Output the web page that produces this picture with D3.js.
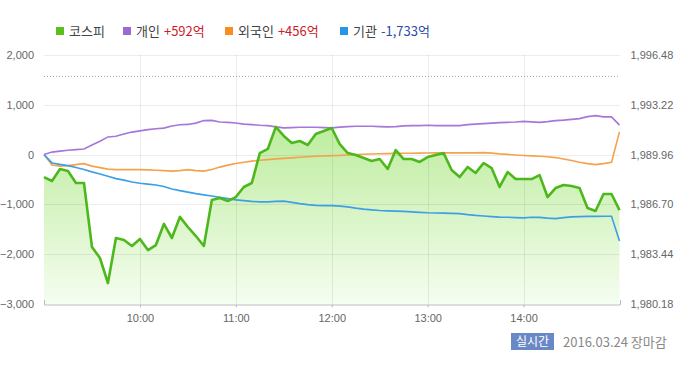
<!DOCTYPE html>
<html><head><meta charset="utf-8">
<script src="https://cdn.jsdelivr.net/npm/d3@7"></script>
<style>
html,body{margin:0;padding:0;background:#fff;}
svg{display:block;}
.tick text{font-family:"Liberation Sans",Arial,sans-serif;font-size:11px;fill:#666;}
</style></head>
<body>
<svg id="chart" width="700" height="365"></svg>
<script>
const times = ["09:00","09:05","09:10","09:15","09:20","09:25","09:30","09:35","09:40","09:45","09:50","09:55",
"10:00","10:05","10:10","10:15","10:20","10:25","10:30","10:35","10:40","10:45","10:50","10:55",
"11:00","11:05","11:10","11:15","11:20","11:25","11:30","11:35","11:40","11:45","11:50","11:55",
"12:00","12:05","12:10","12:15","12:20","12:25","12:30","12:35","12:40","12:45","12:50","12:55",
"13:00","13:05","13:10","13:15","13:20","13:25","13:30","13:35","13:40","13:45","13:50","13:55",
"14:00","14:05","14:10","14:15","14:20","14:25","14:30","14:35","14:40","14:45","14:50","14:55","15:00"];
const kospi = [1988.49,1988.23,1989.02,1988.89,1988.10,1988.10,1983.91,1983.19,1981.55,1984.50,
1984.37,1983.98,1984.44,1983.71,1984.04,1985.42,1984.50,1985.88,1985.22,1984.63,
1983.98,1986.99,1987.12,1986.92,1987.18,1987.84,1988.10,1990.06,1990.33,1991.77,
1991.18,1990.72,1990.85,1990.59,1991.31,1991.51,1991.70,1990.65,1990.06,1989.93,
1989.74,1989.54,1989.67,1989.02,1990.26,1989.67,1989.67,1989.48,1989.80,1989.93,
1990.06,1988.95,1988.49,1989.15,1988.76,1989.41,1989.08,1987.84,1988.82,1988.36,
1988.36,1988.36,1988.62,1987.18,1987.77,1987.97,1987.90,1987.77,1986.46,1986.27,
1987.38,1987.38,1986.33];
const individual = [0,50,70,86,100,114,191,267,355,367,
415,452,476,502,518,532,576,598,606,632,
683,687,656,648,636,612,602,590,582,556,
536,542,548,548,548,542,536,552,562,568,
568,568,562,556,562,576,582,582,588,582,
582,582,582,602,612,622,632,642,648,656,
668,658,648,662,683,693,707,723,763,783,
757,757,592];
const foreign = [0,-211,-231,-221,-201,-181,-231,-261,-291,-301,
-301,-301,-301,-307,-313,-321,-331,-321,-301,-321,
-331,-301,-251,-211,-177,-155,-131,-115,-100,-86,
-75,-65,-54,-44,-34,-28,-20,-16,-8,0,
6,12,16,20,24,26,28,30,32,34,
34,34,34,34,34,40,30,14,4,-8,
-18,-26,-34,-44,-60,-90,-120,-155,-181,-201,
-181,-155,456];
const institution = [0,-167,-197,-221,-261,-301,-347,-388,-436,-482,
-512,-550,-576,-592,-612,-639,-689,-723,-753,-783,
-809,-833,-859,-884,-910,-924,-940,-950,-950,-940,
-934,-960,-984,-1004,-1020,-1024,-1024,-1034,-1050,-1074,
-1094,-1110,-1124,-1130,-1136,-1140,-1150,-1160,-1168,-1172,
-1176,-1180,-1185,-1205,-1221,-1233,-1245,-1255,-1259,-1265,
-1271,-1257,-1261,-1275,-1285,-1265,-1251,-1245,-1241,-1241,
-1239,-1239,-1733];
const leftTicks = [-3000,-2000,-1000,0,1000,2000];
const rightTicks = [1980.18,1983.44,1986.70,1989.96,1993.22,1996.48];
const timeTicks = ["10:00","11:00","12:00","13:00","14:00"];
const prevClose = 1995.12;
const legendNames = ["코스피","개인","외국인","기관"];
const legendValues = ["","+592억","+456억","-1,733억"];
const dateLabel = "2016.03.24 장마감";
const badgeLabel = "실시간";

const parse = d3.timeParse("%H:%M");
const svg = d3.select("#chart");
const L = 44, R = 619.5, T = 55, B = 304;
const x = d3.scaleTime().domain([parse("09:00"), parse("15:00")]).range([L, R]);
const yL = d3.scaleLinear().domain([-3000, 2000]).range([B, T]);
const yR = d3.scaleLinear().domain([1980.18, 1996.48]).range([B, T]);
const tData = times.map(parse);

const defs = svg.append("defs");
const grad = defs.append("linearGradient").attr("id","g").attr("gradientUnits","userSpaceOnUse")
  .attr("x1",0).attr("x2",0).attr("y1",120).attr("y2",B);
grad.append("stop").attr("offset","0").attr("stop-color","#bcec9c");
grad.append("stop").attr("offset","1").attr("stop-color","#f5fdf0");

// area
svg.append("path").datum(kospi)
  .attr("d", d3.area().x((d,i)=>x(tData[i])).y0(B).y1(d=>yR(d)))
  .attr("fill","url(#g)");

// grid
const grid = svg.append("g");
grid.selectAll("line.h").data(leftTicks.filter(d=>d>-3000)).join("line")
  .attr("x1",L).attr("x2",R).attr("y1",d=>Math.round(yL(d))+0.5).attr("y2",d=>Math.round(yL(d))+0.5)
  .attr("stroke","rgba(0,0,0,0.07)");
grid.selectAll("line.v").data(timeTicks).join("line")
  .attr("x1",d=>Math.round(x(parse(d)))+0.5).attr("x2",d=>Math.round(x(parse(d)))+0.5)
  .attr("y1",T).attr("y2",B).attr("stroke","rgba(0,0,0,0.07)");

// prev close dotted
svg.append("line").attr("x1",L).attr("x2",R)
  .attr("y1",Math.round(yR(prevClose))+0.5).attr("y2",Math.round(yR(prevClose))+0.5)
  .attr("stroke","#aaa").attr("stroke-dasharray","1,2");

// axes
const axL = svg.append("g").attr("transform",`translate(${L},0)`)
  .call(d3.axisLeft(yL).tickValues(leftTicks).tickFormat(d3.format(",")).tickSize(0).tickPadding(10));
axL.select(".domain").remove();
const axR = svg.append("g").attr("transform",`translate(${R},0)`)
  .call(d3.axisRight(yR).tickValues(rightTicks).tickFormat(d3.format(",.2f")).tickSize(0).tickPadding(11));
axR.select(".domain").remove();
axR.selectAll(".tick text").attr("text-anchor","start");
const axB = svg.append("g").attr("transform",`translate(0,${B+0.5})`)
  .call(d3.axisBottom(x).tickValues(timeTicks.map(parse)).tickFormat(d3.timeFormat("%H:%M")).tickSize(3).tickSizeOuter(0).tickPadding(7));
axB.select(".domain").attr("stroke","#bbb");
axB.selectAll(".tick line").attr("stroke","#bbb");
[L, R].forEach(v=>{
  svg.append("line").attr("x1",Math.round(v)+0.5).attr("x2",Math.round(v)+0.5).attr("y1",B-4).attr("y2",B+1).attr("stroke","#bbb");
});

// lines
const line = (ys)=>d3.line().x((d,i)=>x(tData[i])).y(d=>ys(d));
svg.append("path").datum(foreign).attr("d",line(yL)).attr("fill","none").attr("stroke","#f5a24c").attr("stroke-width",1.6);
svg.append("path").datum(institution).attr("d",line(yL)).attr("fill","none").attr("stroke","#3d9fe6").attr("stroke-width",1.6);
svg.append("path").datum(individual).attr("d",line(yL)).attr("fill","none").attr("stroke","#a477d9").attr("stroke-width",1.6);
svg.append("path").datum(kospi).attr("d",line(yR)).attr("fill","none").attr("stroke","#4db81c").attr("stroke-width",2.6).attr("stroke-linejoin","round");

// legend
const lgColors = ["#5cbf1a","#9a6bd0","#f98c1f","#2796e8"];
const lgX = [56, 123, 225, 340];
const valColors = ["#333","#cc1b2b","#cc1b2b","#2a4aa8"];
const lg = svg.append("g").style("font-family","'Noto Sans CJK KR','Noto Sans',sans-serif").style("font-size","13px");
legendNames.forEach((n,i)=>{
  lg.append("rect").attr("x",lgX[i]).attr("y",27).attr("width",8).attr("height",8).attr("fill",lgColors[i]);
  const t = lg.append("text").attr("x",lgX[i]+13).attr("y",36);
  t.append("tspan").attr("fill","#444").text(n);
  if (legendValues[i]) t.append("tspan").attr("dx",4).attr("fill",valColors[i]).text(legendValues[i]);
});

// bottom info
svg.append("rect").attr("x",511).attr("y",333).attr("width",43).attr("height",17).attr("fill","#6a88c6");
svg.append("text").attr("x",532.5).attr("y",346).attr("text-anchor","middle")
  .style("font-family","'Noto Sans CJK KR',sans-serif").style("font-size","12px").attr("fill","#fff").text(badgeLabel);
svg.append("text").attr("x",563).attr("y",346.5)
  .style("font-family","'Noto Sans CJK KR',sans-serif").style("font-size","13px").attr("fill","#888").text(dateLabel);
</script>
</body></html>
